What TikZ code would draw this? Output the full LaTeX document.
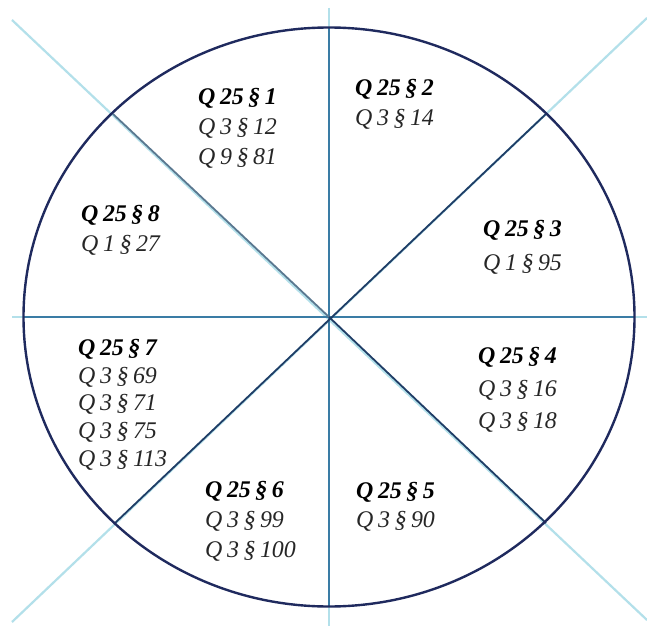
\documentclass[tikz,border=0pt]{standalone}
\usepackage{fontspec}
\setmainfont{Liberation Serif}
\definecolor{navy}{HTML}{1F2A5E}
\definecolor{spoke}{HTML}{1F3D66}
\definecolor{spokegray}{HTML}{5A7890}
\definecolor{spokeblue}{HTML}{3A7CA5}
\definecolor{glow}{HTML}{B3E0EA}
\newcommand\qsp{\hspace{0.19em}}
\begin{document}
\begin{tikzpicture}[x=1bp,y=-1bp,
  outerline/.style={draw=glow,line width=2.2bp},
  innerline/.style={draw=spoke,line width=1.8bp},
  axisline/.style={draw=spokeblue,line width=1.6bp},
  rim/.style={draw=navy,line width=2.4bp},
  lbl/.style={anchor=base west,inner sep=0pt,font=\fontsize{24}{29}\selectfont\itshape,text=black!85},
  head/.style={lbl,font=\fontsize{24}{29}\selectfont\bfseries\itshape,text=black}]
\useasboundingbox (0,0) rectangle (647,626);
\fill[white] (0,0) rectangle (647,626);
\coordinate (C) at (329,317);
% outer ends
\coordinate (T) at (329,8);
\coordinate (B) at (329,626);
\coordinate (L) at (12,317);
\coordinate (R) at (647,317);
\coordinate (TL) at (12,20);
\coordinate (TR) at (647,18);
\coordinate (BL) at (12,622);
\coordinate (BR) at (647,620);
% rim crossings
\coordinate (cT) at (329,28);
\coordinate (cB) at (329,607);
\coordinate (cL) at (24,317);
\coordinate (cR) at (635,317);
\coordinate (cTL) at (113,114);
\coordinate (cTR) at (547,113);
\coordinate (cBL) at (115,523);
\coordinate (cBR) at (546,523);
% light full lines
\draw[outerline] (T) -- (B);
\draw[outerline] (L) -- (R);
\draw[outerline] (TL) -- (BR);
\draw[outerline] (TR) -- (BL);
% inner spokes
\draw[axisline] (cT) -- (cB);
\draw[axisline] (cL) -- (cR);
\draw[draw=spokegray,line width=1.8bp] (cTL) -- (C);
\draw[innerline] (C) -- (cBR);
\draw[innerline] (cTR) -- (cBL);
% rim
\draw[rim] (C) ellipse [x radius=305.5, y radius=289.5];
% labels
\node[head] (s1a) at (198,105) {Q\qsp 25\qsp §\qsp 1};
\node[lbl]  (s1b) at (198,135) {Q\qsp 3\qsp §\qsp 12};
\node[lbl]  (s1c) at (198,165) {Q\qsp 9\qsp §\qsp 81};
\node[head] (s2a) at (355,96) {Q\qsp 25\qsp §\qsp 2};
\node[lbl]  (s2b) at (355,126) {Q\qsp 3\qsp §\qsp 14};
\node[head] (s3a) at (483,236) {Q\qsp 25\qsp §\qsp 3};
\node[lbl]  (s3b) at (483,270) {Q\qsp 1\qsp §\qsp 95};
\node[head] (s4a) at (478,363) {Q\qsp 25\qsp §\qsp 4};
\node[lbl]  (s4b) at (478,396) {Q\qsp 3\qsp §\qsp 16};
\node[lbl]  (s4c) at (478,428) {Q\qsp 3\qsp §\qsp 18};
\node[head] (s5a) at (356,498) {Q\qsp 25\qsp §\qsp 5};
\node[lbl]  (s5b) at (356,527) {Q\qsp 3\qsp §\qsp 90};
\node[head] (s6a) at (205,497) {Q\qsp 25\qsp §\qsp 6};
\node[lbl]  (s6b) at (205,527) {Q\qsp 3\qsp §\qsp 99};
\node[lbl]  (s6c) at (205,557) {Q\qsp 3\qsp §\qsp 100};
\node[head] (s7a) at (78,355) {Q\qsp 25\qsp §\qsp 7};
\node[lbl]  (s7b) at (78,383) {Q\qsp 3\qsp §\qsp 69};
\node[lbl]  (s7c) at (78,410) {Q\qsp 3\qsp §\qsp 71};
\node[lbl]  (s7d) at (78,438) {Q\qsp 3\qsp §\qsp 75};
\node[lbl]  (s7e) at (78,466) {Q\qsp 3\qsp §\qsp 113};
\node[head] (s8a) at (81,221) {Q\qsp 25\qsp §\qsp 8};
\node[lbl]  (s8b) at (81,251) {Q\qsp 1\qsp §\qsp 27};
\end{tikzpicture}
\end{document}
